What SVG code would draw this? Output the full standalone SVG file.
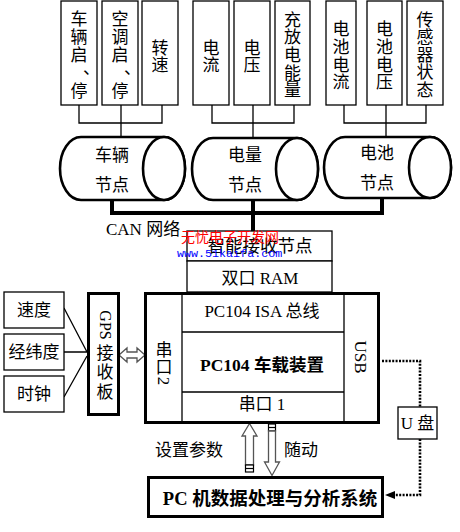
<svg xmlns="http://www.w3.org/2000/svg" width="460" height="532" viewBox="0 0 460 532">
<style>
.t{font-family:"Liberation Serif","Noto Sans CJK SC",serif;font-size:17px;fill:#000;text-anchor:middle}
.b{font-weight:bold}
.box{fill:#fff;stroke:#000;stroke-width:1.3}
.thk{fill:#fff;stroke:#000;stroke-width:3}
.ln{fill:none;stroke:#000;stroke-width:1.3}
.bus{fill:none;stroke:#000;stroke-width:4}
.cyl{fill:#fff;stroke:#000;stroke-width:2.6}
.hol{fill:#fff;stroke:#555;stroke-width:1.3}
.dot{fill:none;stroke:#000;stroke-width:2.6;stroke-dasharray:2 1.4}
</style>
<rect width="460" height="532" fill="#fff"/>

<g id="connectors">
  <path class="ln" d="M79,105V123H162V105M121,105V137"/>
  <path class="ln" d="M212,105V123H294V105M253,105V138"/>
  <path class="ln" d="M344,105V123H426V105M386,105V137"/>
  <path class="bus" d="M112,200V213H382V198M253,200V231"/>
  <path class="ln" d="M64,308L87,352M64,352H87M64,397L87,356"/>
  <polygon class="hol" points="119,355 127,348 127,352 137,352 137,348 145,355 137,362 137,358 127,358 127,362"/>
  <polygon class="hol" points="249.5,423.5 257,436 253.5,436 253.5,465 245.5,465 245.5,436 242,436"/>
  <rect x="245.5" y="465" width="8" height="7" fill="#fff" stroke="#000" stroke-width="1.2"/>
  <line x1="245.5" y1="468.5" x2="253.5" y2="468.5" stroke="#000" stroke-width="1.2"/>
  <rect x="268.5" y="424" width="7" height="7" fill="#fff" stroke="#000" stroke-width="1.2"/>
  <line x1="268.5" y1="427.5" x2="275.5" y2="427.5" stroke="#000" stroke-width="1.2"/>
  <polygon class="hol" points="268.5,431 275.5,431 275.5,462 279.5,462 272,475.5 264.5,462 268.5,462"/>
  <path class="dot" d="M382,361H420V407M420,439V495H393"/>
  <polygon points="385,495 395,491 395,499" fill="#000"/>
</g>

<g id="n-che">
  <rect class="box" x="61" y="1" width="36" height="104"/>
  <text class="t" x="79" y="25">车</text><text class="t" x="79" y="43">辆</text><text class="t" x="79" y="61">启</text>
  <text class="t" x="83" y="74" style="text-anchor:start">、</text><text class="t" x="79" y="97">停</text>
</g>
<g id="n-kongtiao">
  <rect class="box" x="102" y="1" width="36" height="104"/>
  <text class="t" x="120" y="25">空</text><text class="t" x="120" y="43">调</text><text class="t" x="120" y="61">启</text>
  <text class="t" x="124" y="74" style="text-anchor:start">、</text><text class="t" x="120" y="97">停</text>
</g>
<g id="n-zhuansu">
  <rect class="box" x="142" y="1" width="36" height="104"/>
  <text class="t" x="160" y="54">转</text><text class="t" x="160" y="71">速</text>
</g>
<g id="n-dianliu">
  <rect class="box" x="193" y="1" width="36" height="104"/>
  <text class="t" x="211" y="54">电</text><text class="t" x="211" y="71">流</text>
</g>
<g id="n-dianya">
  <rect class="box" x="234" y="1" width="36" height="104"/>
  <text class="t" x="252" y="54">电</text><text class="t" x="252" y="71">压</text>
</g>
<g id="n-chongfang">
  <rect class="box" x="275" y="1" width="35" height="104"/>
  <text class="t" x="292.5" y="26">充</text><text class="t" x="292.5" y="43">放</text><text class="t" x="292.5" y="61">电</text>
  <text class="t" x="292.5" y="79">能</text><text class="t" x="292.5" y="96">量</text>
</g>
<g id="n-dcdl">
  <rect class="box" x="326" y="1" width="30" height="104"/>
  <text class="t" x="341" y="35">电</text><text class="t" x="341" y="53">池</text><text class="t" x="341" y="71">电</text><text class="t" x="341" y="88">流</text>
</g>
<g id="n-dcdy">
  <rect class="box" x="367" y="1" width="35" height="104"/>
  <text class="t" x="384.5" y="35">电</text><text class="t" x="384.5" y="53">池</text><text class="t" x="384.5" y="71">电</text><text class="t" x="384.5" y="88">压</text>
</g>
<g id="n-sensor">
  <rect class="box" x="407" y="1" width="36" height="104"/>
  <text class="t" x="425" y="26">传</text><text class="t" x="425" y="43">感</text><text class="t" x="425" y="61">器</text>
  <text class="t" x="425" y="78">状</text><text class="t" x="425" y="96">态</text>
</g>

<g id="n-cyl-vehicle">
  <path class="cyl" d="M81,137H164A21,31.5 0 0 1 164,200H81A21,31.5 0 0 1 81,137Z"/>
  <ellipse class="cyl" cx="164" cy="168.5" rx="21" ry="31.5"/>
  <text class="t" x="112" y="161">车辆</text><text class="t" x="112" y="191">节点</text>
</g>
<g id="n-cyl-energy">
  <path class="cyl" d="M213,138H297A21,31 0 0 1 297,200H213A21,31 0 0 1 213,138Z"/>
  <ellipse class="cyl" cx="297" cy="169" rx="21" ry="31"/>
  <text class="t" x="245" y="161">电量</text><text class="t" x="245" y="191">节点</text>
</g>
<g id="n-cyl-battery">
  <path class="cyl" d="M345,137H430A21,30.5 0 0 1 430,198H345A21,30.5 0 0 1 345,137Z"/>
  <ellipse class="cyl" cx="430" cy="167.5" rx="21" ry="30.5"/>
  <text class="t" x="377" y="159">电池</text><text class="t" x="377" y="189">节点</text>
</g>

<text class="t" x="106" y="235" style="text-anchor:start">CAN 网络</text>

<g id="n-receiver">
  <rect class="box" x="187" y="231" width="145" height="30"/>
  <text class="t" x="260" y="252" style="font-size:17.5px">智能接收节点</text>
</g>
<g id="n-ram">
  <rect class="box" x="187" y="261" width="145" height="31"/>
  <text class="t" x="260" y="284">双口 RAM</text>
</g>

<g id="n-pc104">
  <rect class="thk" x="145.5" y="293.5" width="233" height="129"/>
  <path class="ln" d="M182,293V422M344,293V422M182,332H344M182,392H344"/>
  <text class="t" x="262" y="317">PC104 ISA 总线</text>
  <text class="t b" x="262" y="371" style="font-size:17.5px">PC104 车载装置</text>
  <text class="t" x="262" y="410">串口 1</text>
  <text class="t" x="164" y="356">串</text><text class="t" x="164" y="373">口</text>
  <text class="t" transform="translate(164,381) rotate(90)" x="0" y="6">2</text>
  <text class="t" transform="translate(360,357) rotate(90)" x="0" y="5.5">USB</text>
</g>

<g id="n-gps">
  <rect class="thk" x="88.5" y="293.5" width="30" height="121"/>
  <text class="t" transform="translate(106,325) rotate(90)" x="0" y="6" style="font-size:16px">GPS</text>
  <text class="t" x="105" y="359">接</text><text class="t" x="105" y="378">收</text><text class="t" x="105" y="398">板</text>
</g>

<g id="n-speed">
  <rect class="box" x="4" y="292" width="60" height="36"/>
  <text class="t" x="34" y="316">速度</text>
</g>
<g id="n-latlon">
  <rect class="box" x="4" y="334" width="60" height="36"/>
  <text class="t" x="34" y="358">经纬度</text>
</g>
<g id="n-clock">
  <rect class="box" x="4" y="376" width="60" height="36"/>
  <text class="t" x="34" y="400">时钟</text>
</g>

<text class="t" x="189" y="456">设置参数</text>
<text class="t" x="301" y="456">随动</text>

<g id="n-pc">
  <rect class="thk" x="148.5" y="477.5" width="234" height="39"/>
  <text class="t b" x="270" y="505" style="font-size:18.5px">PC 机数据处理与分析系统</text>
</g>

<g id="n-udisk">
  <rect class="box" x="398" y="407" width="39" height="32"/>
  <text class="t" x="417.5" y="429">U 盘</text>
</g>

<g id="watermark">
  <text x="181" y="242" style="font-family:'Noto Sans CJK SC',sans-serif;font-size:14px;fill:#f00">无忧电子开发网</text>
  <text x="177" y="257" style="font-family:'Liberation Mono',monospace;font-size:11.7px;fill:#00f">www.51kaifa.com</text>
</g>
</svg>
